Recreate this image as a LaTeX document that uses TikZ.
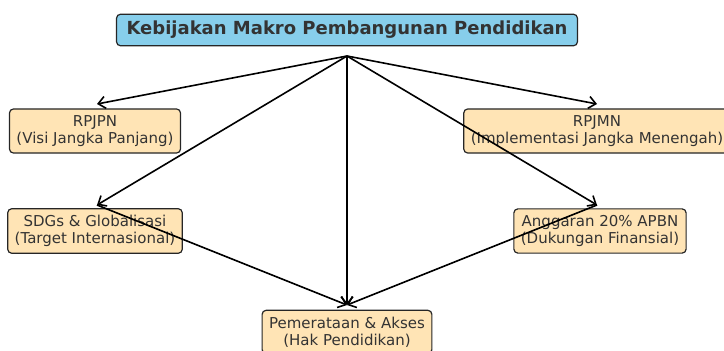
\documentclass[tikz,border=0pt]{standalone}
\usepackage{fontspec}
\setmainfont{DejaVu Sans}
\usetikzlibrary{arrows.meta}
\definecolor{isikotak}{HTML}{FFE4B5}
\definecolor{isijudul}{HTML}{87CEEB}
\definecolor{teksabu}{HTML}{333333}

\begin{document}
\begin{tikzpicture}[x=1pt, y=-1pt,
    kotak/.style={draw=black!85, line width=1.2pt, rounded corners=4pt, fill=isikotak,
      text=teksabu, align=center, font=\fontsize{15}{17}\selectfont,
      inner xsep=7pt, inner ysep=6.5pt},
    judul/.style={kotak, fill=isijudul, font=\fontsize{18}{21}\selectfont\bfseries,
      inner xsep=10pt, inner ysep=7pt},
    panah/.style={-{Straight Barb[length=7pt, width=12pt]}, line width=1.6pt}]
    \useasboundingbox (0,0) rectangle (724,351);

    % Kotak-kotak
    \node[judul] (kebijakan) at (347,30) {Kebijakan Makro Pembangunan Pendidikan};
    \node[kotak] (rpjpn) at (95,131) {RPJPN\\(Visi Jangka Panjang)};
    \node[kotak] (rpjmn) at (597,131) {RPJMN\\(Implementasi Jangka Menengah)};
    \node[kotak] (sdgs) at (95,231) {SDGs \& Globalisasi\\(Target Internasional)};
    \node[kotak] (anggaran) at (600,231) {Anggaran 20\% APBN\\(Dukungan Finansial)};
    \node[kotak] (akses) at (347,332) {Pemerataan \& Akses\\(Hak Pendidikan)};

    % Titik ujung panah
    \coordinate (pusat) at (347,56);
    \coordinate (rpjpn-atas) at (97,104);
    \coordinate (rpjmn-atas) at (597,104);
    \coordinate (sdgs-atas) at (97,205);
    \coordinate (anggaran-atas) at (597,205);
    \coordinate (akses-atas) at (347,305);

    % Panah
    \foreach \tujuan in {rpjpn-atas, rpjmn-atas, sdgs-atas, anggaran-atas, akses-atas}
        \draw[panah] (pusat) -- (\tujuan);
    \draw[panah] (sdgs-atas) -- (akses-atas);
    \draw[panah] (anggaran-atas) -- (akses-atas);
\end{tikzpicture}
\end{document}
